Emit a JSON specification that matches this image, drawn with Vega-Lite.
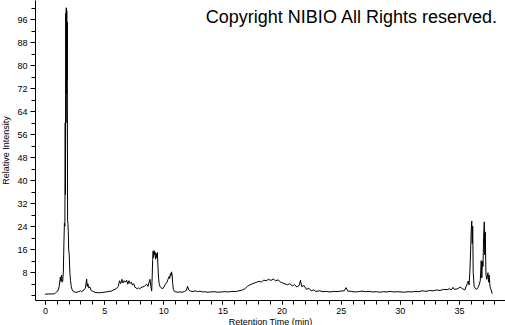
{
  "$schema": "https://vega.github.io/schema/vega-lite/v6.json",
  "autosize": {"type": "none"},
  "width": 470,
  "height": 300,
  "padding": {"left": 35, "top": 0, "right": 0, "bottom": 25},
  "background": "white",
  "config": {
    "view": {"stroke": null},
    "axis": {"labelFont": "Liberation Sans", "titleFont": "Liberation Sans", "labelColor": "black", "titleColor": "black", "domainColor": "black", "tickColor": "black", "grid": false, "titleFontWeight": "normal"}
  },
  "resolve": {"axis": {"x": "independent", "y": "independent"}},
  "layer": [
    {
      "data": {"values": [
        {"t": 0, "v": 0.3}, {"t": 0.3, "v": 0.4}, {"t": 0.6, "v": 0.4}, {"t": 0.8, "v": 0.5}, {"t": 0.9, "v": 0.8},
        {"t": 1.0, "v": 1.2}, {"t": 1.1, "v": 1.5}, {"t": 1.2, "v": 3}, {"t": 1.3, "v": 6.3}, {"t": 1.35, "v": 4.8},
        {"t": 1.4, "v": 7}, {"t": 1.45, "v": 4.5}, {"t": 1.5, "v": 5}, {"t": 1.55, "v": 8}, {"t": 1.6, "v": 18},
        {"t": 1.64, "v": 25}, {"t": 1.68, "v": 24}, {"t": 1.71, "v": 60}, {"t": 1.73, "v": 35}, {"t": 1.76, "v": 98},
        {"t": 1.78, "v": 60}, {"t": 1.8, "v": 100}, {"t": 1.82, "v": 70}, {"t": 1.84, "v": 99}, {"t": 1.86, "v": 75},
        {"t": 1.88, "v": 95}, {"t": 1.91, "v": 26}, {"t": 1.94, "v": 25}, {"t": 1.97, "v": 22}, {"t": 2.0, "v": 16},
        {"t": 2.05, "v": 14}, {"t": 2.1, "v": 8}, {"t": 2.16, "v": 5}, {"t": 2.22, "v": 3}, {"t": 2.3, "v": 1.8},
        {"t": 2.4, "v": 1.2}, {"t": 2.6, "v": 1.0}, {"t": 2.8, "v": 1.1}, {"t": 3.0, "v": 1.5}, {"t": 3.1, "v": 1.2},
        {"t": 3.3, "v": 1.8}, {"t": 3.42, "v": 2.5}, {"t": 3.52, "v": 5.6}, {"t": 3.57, "v": 3}, {"t": 3.62, "v": 4},
        {"t": 3.7, "v": 2.5}, {"t": 3.8, "v": 2.8}, {"t": 3.9, "v": 1.6}, {"t": 4.0, "v": 1.4}, {"t": 4.2, "v": 1.0},
        {"t": 4.5, "v": 0.8}, {"t": 4.8, "v": 0.9}, {"t": 5.0, "v": 1.0}, {"t": 5.3, "v": 1.2}, {"t": 5.6, "v": 1.4},
        {"t": 5.8, "v": 1.8}, {"t": 6.0, "v": 2.2}, {"t": 6.2, "v": 3}, {"t": 6.3, "v": 5}, {"t": 6.4, "v": 4},
        {"t": 6.5, "v": 5.5}, {"t": 6.6, "v": 4.2}, {"t": 6.7, "v": 5.0}, {"t": 6.8, "v": 4.5}, {"t": 6.9, "v": 5.2},
        {"t": 7.0, "v": 3.8}, {"t": 7.1, "v": 5}, {"t": 7.2, "v": 4}, {"t": 7.3, "v": 4.5}, {"t": 7.4, "v": 3.5},
        {"t": 7.5, "v": 4.0}, {"t": 7.6, "v": 2.8}, {"t": 7.7, "v": 2.5}, {"t": 7.8, "v": 2.2}, {"t": 7.9, "v": 2.5},
        {"t": 8.0, "v": 2.2}, {"t": 8.2, "v": 2.8}, {"t": 8.4, "v": 3.0}, {"t": 8.5, "v": 3.5}, {"t": 8.6, "v": 3.8},
        {"t": 8.7, "v": 3.0}, {"t": 8.8, "v": 4.5}, {"t": 8.88, "v": 5.5}, {"t": 8.95, "v": 3}, {"t": 9.02, "v": 1.4},
        {"t": 9.06, "v": 6}, {"t": 9.1, "v": 12}, {"t": 9.14, "v": 15.3}, {"t": 9.18, "v": 13}, {"t": 9.22, "v": 15.5},
        {"t": 9.26, "v": 14}, {"t": 9.3, "v": 15}, {"t": 9.35, "v": 12.5}, {"t": 9.4, "v": 14.5}, {"t": 9.45, "v": 13},
        {"t": 9.5, "v": 14.8}, {"t": 9.55, "v": 10}, {"t": 9.6, "v": 6}, {"t": 9.65, "v": 4}, {"t": 9.7, "v": 3.2},
        {"t": 9.8, "v": 2.6}, {"t": 9.9, "v": 2.3}, {"t": 10.0, "v": 2.4}, {"t": 10.1, "v": 3.2}, {"t": 10.2, "v": 4},
        {"t": 10.3, "v": 4.3}, {"t": 10.4, "v": 5.5}, {"t": 10.5, "v": 6.5}, {"t": 10.55, "v": 5.8}, {"t": 10.6, "v": 7.5},
        {"t": 10.65, "v": 6.8}, {"t": 10.7, "v": 8.1}, {"t": 10.75, "v": 7}, {"t": 10.8, "v": 4}, {"t": 10.85, "v": 2},
        {"t": 10.9, "v": 1.5}, {"t": 11.0, "v": 1.2}, {"t": 11.2, "v": 1.0}, {"t": 11.4, "v": 1.1}, {"t": 11.6, "v": 1.0},
        {"t": 11.8, "v": 1.3}, {"t": 11.95, "v": 1.6}, {"t": 12.05, "v": 3.1}, {"t": 12.15, "v": 1.8}, {"t": 12.3, "v": 1.4},
        {"t": 12.5, "v": 1.2}, {"t": 12.7, "v": 1.5}, {"t": 12.9, "v": 1.2}, {"t": 13.1, "v": 1.4}, {"t": 13.3, "v": 1.1},
        {"t": 13.5, "v": 1.2}, {"t": 13.7, "v": 1.0}, {"t": 14.0, "v": 1.1}, {"t": 14.3, "v": 1.2}, {"t": 14.6, "v": 1.0},
        {"t": 14.9, "v": 1.1}, {"t": 15.2, "v": 1.2}, {"t": 15.5, "v": 1.1}, {"t": 15.8, "v": 1.3}, {"t": 16.1, "v": 1.2},
        {"t": 16.4, "v": 1.5}, {"t": 16.7, "v": 1.8}, {"t": 16.9, "v": 2.2}, {"t": 17.1, "v": 3.0}, {"t": 17.3, "v": 3.5},
        {"t": 17.5, "v": 3.9}, {"t": 17.7, "v": 4.2}, {"t": 17.9, "v": 4.5}, {"t": 18.1, "v": 4.8}, {"t": 18.3, "v": 4.6},
        {"t": 18.5, "v": 5.2}, {"t": 18.7, "v": 5.0}, {"t": 18.9, "v": 5.5}, {"t": 19.1, "v": 5.1}, {"t": 19.3, "v": 5.6},
        {"t": 19.5, "v": 5.0}, {"t": 19.7, "v": 5.3}, {"t": 19.9, "v": 4.6}, {"t": 20.1, "v": 4.2}, {"t": 20.3, "v": 3.9},
        {"t": 20.5, "v": 3.6}, {"t": 20.7, "v": 4.0}, {"t": 20.9, "v": 3.2}, {"t": 21.1, "v": 3.6}, {"t": 21.3, "v": 2.8},
        {"t": 21.5, "v": 3.5}, {"t": 21.6, "v": 5.2}, {"t": 21.7, "v": 3.0}, {"t": 21.9, "v": 3.3}, {"t": 22.1, "v": 2.0},
        {"t": 22.3, "v": 2.4}, {"t": 22.5, "v": 1.5}, {"t": 22.7, "v": 1.8}, {"t": 22.9, "v": 1.3}, {"t": 23.2, "v": 1.5},
        {"t": 23.5, "v": 1.2}, {"t": 23.8, "v": 1.3}, {"t": 24.1, "v": 1.1}, {"t": 24.4, "v": 1.3}, {"t": 24.7, "v": 1.2},
        {"t": 25.0, "v": 1.4}, {"t": 25.3, "v": 1.5}, {"t": 25.45, "v": 2.6}, {"t": 25.6, "v": 1.4}, {"t": 25.9, "v": 1.3},
        {"t": 26.2, "v": 1.1}, {"t": 26.5, "v": 1.2}, {"t": 26.8, "v": 1.4}, {"t": 27.1, "v": 1.2}, {"t": 27.4, "v": 1.3},
        {"t": 27.7, "v": 1.1}, {"t": 28.0, "v": 1.2}, {"t": 28.3, "v": 1.0}, {"t": 28.6, "v": 1.2}, {"t": 28.9, "v": 1.1},
        {"t": 29.2, "v": 1.3}, {"t": 29.5, "v": 1.1}, {"t": 29.8, "v": 1.2}, {"t": 30.1, "v": 1.1}, {"t": 30.4, "v": 1.0},
        {"t": 30.7, "v": 1.2}, {"t": 31.0, "v": 1.1}, {"t": 31.3, "v": 1.3}, {"t": 31.6, "v": 1.2}, {"t": 31.9, "v": 1.5},
        {"t": 32.2, "v": 1.3}, {"t": 32.5, "v": 1.6}, {"t": 32.8, "v": 1.5}, {"t": 33.1, "v": 1.8}, {"t": 33.4, "v": 1.6},
        {"t": 33.7, "v": 2.0}, {"t": 34.0, "v": 1.9}, {"t": 34.2, "v": 2.2}, {"t": 34.35, "v": 1.8}, {"t": 34.5, "v": 2.7},
        {"t": 34.6, "v": 2.0}, {"t": 34.9, "v": 2.2}, {"t": 35.1, "v": 2.8}, {"t": 35.3, "v": 2.2}, {"t": 35.5, "v": 1.8},
        {"t": 35.6, "v": 3}, {"t": 35.7, "v": 4}, {"t": 35.78, "v": 4.9}, {"t": 35.85, "v": 3.5}, {"t": 35.92, "v": 8},
        {"t": 35.98, "v": 15}, {"t": 36.03, "v": 22}, {"t": 36.08, "v": 25.8}, {"t": 36.12, "v": 18}, {"t": 36.16, "v": 24},
        {"t": 36.2, "v": 8}, {"t": 36.28, "v": 3}, {"t": 36.4, "v": 2.2}, {"t": 36.5, "v": 2.0}, {"t": 36.6, "v": 2.6},
        {"t": 36.7, "v": 3.5}, {"t": 36.8, "v": 5}, {"t": 36.88, "v": 12}, {"t": 36.93, "v": 6}, {"t": 36.98, "v": 11.8},
        {"t": 37.03, "v": 10}, {"t": 37.08, "v": 20}, {"t": 37.14, "v": 25.5}, {"t": 37.18, "v": 14}, {"t": 37.22, "v": 22},
        {"t": 37.28, "v": 7}, {"t": 37.35, "v": 5.5}, {"t": 37.45, "v": 7.8}, {"t": 37.5, "v": 4.5}, {"t": 37.55, "v": 7},
        {"t": 37.62, "v": 3}, {"t": 37.7, "v": 2}, {"t": 37.81, "v": 0.5}
      ]},
      "mark": {"type": "line", "color": "black", "strokeWidth": 1, "interpolate": "linear"},
      "encoding": {
        "x": {
          "field": "t", "type": "quantitative",
          "scale": {"domain": [-0.845, 38.89], "nice": false, "zero": false},
          "axis": {
            "orient": "bottom",
            "title": "Retention Time (min)", "titleFontSize": 9, "titlePadding": 2,
            "values": [0, 5, 10, 15, 20, 25, 30, 35],
            "labelFontSize": 9, "tickSize": 4, "labelPadding": 2, "labelFlush": false, "labelOverlap": false
          }
        },
        "y": {
          "field": "v", "type": "quantitative",
          "scale": {"domain": [-1.7, 102.7], "nice": false, "zero": false},
          "axis": {
            "orient": "left",
            "title": "Relative Intensity", "titleFontSize": 9, "titlePadding": 6,
            "values": [8, 16, 24, 32, 40, 48, 56, 64, 72, 80, 88, 96],
            "labelFontSize": 9, "tickSize": 5, "labelPadding": 3, "labelFlush": false, "labelOverlap": false
          }
        }
      }
    },
    {
      "data": {"values": [{"t": 38.21, "v": 94.7, "label": "Copyright NIBIO All Rights reserved."}]},
      "mark": {"type": "text", "align": "right", "baseline": "alphabetic", "font": "Liberation Sans", "fontSize": 18, "color": "black"},
      "encoding": {
        "x": {
          "field": "t", "type": "quantitative",
          "scale": {"domain": [-0.845, 38.89], "nice": false, "zero": false},
          "axis": {
            "orient": "bottom", "title": null, "labels": false, "domain": false, "tickSize": 4,
            "values": [0,1,2,3,4,5,6,7,8,9,10,11,12,13,14,15,16,17,18,19,20,21,22,23,24,25,26,27,28,29,30,31,32,33,34,35,36,37,38]
          }
        },
        "y": {
          "field": "v", "type": "quantitative",
          "scale": {"domain": [-1.7, 102.7], "nice": false, "zero": false},
          "axis": {
            "orient": "left", "title": null, "labels": false, "domain": false, "tickSize": 4,
            "values": [0,4,8,12,16,20,24,28,32,36,40,44,48,52,56,60,64,68,72,76,80,84,88,92,96,100]
          }
        },
        "text": {"field": "label"}
      }
    }
  ]
}
